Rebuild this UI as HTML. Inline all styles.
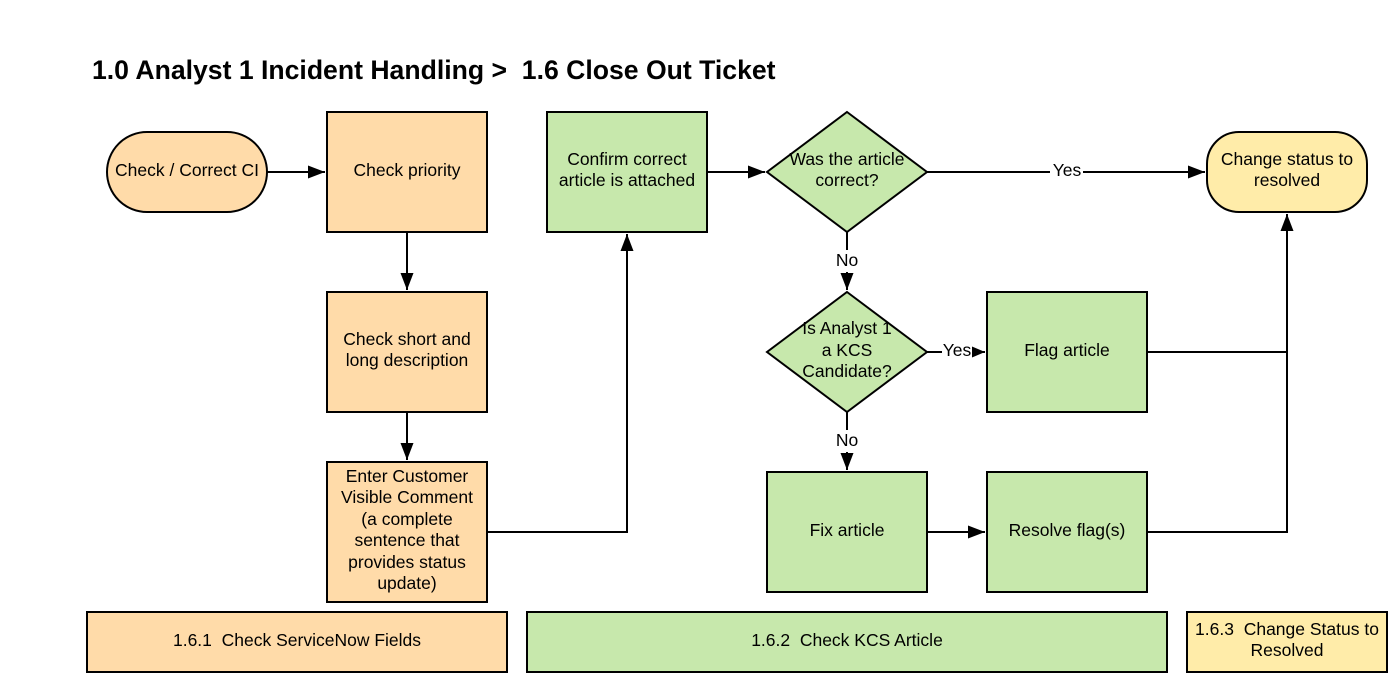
<!DOCTYPE html>
<html><head><meta charset="utf-8"><style>
html,body{margin:0;padding:0;background:#fff}
svg{display:block}
text{font-family:"Liberation Sans",sans-serif;font-size:17.5px;fill:#000;white-space:pre}
</style></head><body>
<svg width="1394" height="689" viewBox="0 0 1394 689" xmlns="http://www.w3.org/2000/svg" xml:space="preserve">
<defs>
<marker id="a" viewBox="0 0 10 10" refX="10" refY="5" markerWidth="17" markerHeight="13" markerUnits="userSpaceOnUse" orient="auto" preserveAspectRatio="none">
<path d="M0,0 L10,5 L0,10 z" fill="#000"/></marker>
<marker id="b" viewBox="0 0 10 10" refX="10" refY="5" markerWidth="13" markerHeight="11" markerUnits="userSpaceOnUse" orient="auto" preserveAspectRatio="none">
<path d="M0,0 L10,5 L0,10 z" fill="#000"/></marker>
</defs>
<text x="92" y="79" style="font-size:26.6px;font-weight:bold">1.0 Analyst 1 Incident Handling &gt;  1.6 Close Out Ticket</text>
<g stroke="#000" stroke-width="2">
<rect x="107" y="132" width="160" height="80" rx="40" fill="#ffdba9"/>
<rect x="327" y="112" width="160" height="120" fill="#ffdba9"/>
<rect x="327" y="292" width="160" height="120" fill="#ffdba9"/>
<rect x="327" y="462" width="160" height="140" fill="#ffdba9"/>
<rect x="547" y="112" width="160" height="120" fill="#c7e8ac"/>
<polygon points="847,112 927,172 847,232 767,172" fill="#c7e8ac"/>
<rect x="1207" y="132" width="160" height="80" rx="32" fill="#ffeca9"/>
<polygon points="847,292 927,352 847,412 767,352" fill="#c7e8ac"/>
<rect x="987" y="292" width="160" height="120" fill="#c7e8ac"/>
<rect x="767" y="472" width="160" height="120" fill="#c7e8ac"/>
<rect x="987" y="472" width="160" height="120" fill="#c7e8ac"/>
<rect x="87" y="612" width="420" height="60" fill="#ffdba9"/>
<rect x="527" y="612" width="640" height="60" fill="#c7e8ac"/>
<rect x="1187" y="612" width="200" height="60" fill="#ffeca9"/>
</g>
<g stroke="#000" stroke-width="2" fill="none">
<path d="M267,172 H325" marker-end="url(#a)"/>
<path d="M407,232 V290" marker-end="url(#a)"/>
<path d="M407,412 V460" marker-end="url(#a)"/>
<path d="M487,532 H627 V234" marker-end="url(#a)"/>
<path d="M707,172 H765" marker-end="url(#a)"/>
<path d="M927,172 H1050 M1083,172 H1205" />
<path d="M1150,172 H1205" marker-end="url(#a)"/>
<path d="M847,232 V250"/>
<path d="M847,272 V290" marker-end="url(#a)"/>
<path d="M927,352 H942"/>
<path d="M973,352 H985" marker-end="url(#b)"/>
<path d="M847,412 V430"/>
<path d="M847,452 V470" marker-end="url(#a)"/>
<path d="M927,532 H985" marker-end="url(#a)"/>
<path d="M1147,532 H1287 V214" marker-end="url(#a)"/>
<path d="M1147,352 H1286"/>
</g>
<g text-anchor="middle">
<text x="187" y="176">Check / Correct CI</text>
<text x="407" y="176">Check priority</text>
<text x="407" y="345">Check short and</text>
<text x="407" y="366">long description</text>
<text x="407" y="482">Enter Customer</text>
<text x="407" y="503">Visible Comment</text>
<text x="407" y="525">(a complete</text>
<text x="407" y="546">sentence that</text>
<text x="407" y="568">provides status</text>
<text x="407" y="589">update)</text>
<text x="627" y="165">Confirm correct</text>
<text x="627" y="186">article is attached</text>
<text x="847" y="165">Was the article</text>
<text x="847" y="186">correct?</text>
<text x="1067" y="176">Yes</text>
<text x="1287" y="165">Change status to</text>
<text x="1287" y="186">resolved</text>
<text x="847" y="266">No</text>
<text x="847" y="334">Is Analyst 1</text>
<text x="847" y="356">a KCS</text>
<text x="847" y="377">Candidate?</text>
<text x="957" y="356">Yes</text>
<text x="1067" y="356">Flag article</text>
<text x="847" y="446">No</text>
<text x="847" y="536">Fix article</text>
<text x="1067" y="536">Resolve flag(s)</text>
<text x="297" y="646">1.6.1  Check ServiceNow Fields</text>
<text x="847" y="646">1.6.2  Check KCS Article</text>
<text x="1287" y="635">1.6.3  Change Status to</text>
<text x="1287" y="656">Resolved</text>
</g>
</svg>
</body></html>
